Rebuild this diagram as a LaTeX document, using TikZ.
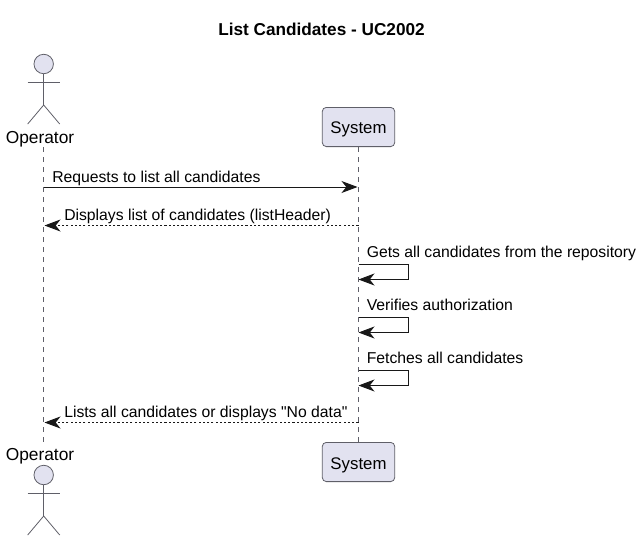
\documentclass[tikz,border=0pt]{standalone}
\usepackage{fontspec}
\setmainfont[Ligatures=TeXOff]{Liberation Sans}
\usetikzlibrary{arrows.meta,calc}
\definecolor{partfill}{HTML}{E2E2F0}
\definecolor{partline}{HTML}{5F5F68}
\definecolor{lifeline}{HTML}{5F5F68}
\definecolor{msgline}{HTML}{181818}
\tikzset{
  px/.style={x=0.75pt,y=-0.75pt},
  part/.style={draw=partline,fill=partfill,line width=0.6pt,rounded corners=3pt,minimum width=54.3pt,minimum height=29.4pt,inner sep=0pt,font=\fontsize{12.6}{14}\selectfont,text=black},
  actorname/.style={inner sep=0pt,font=\fontsize{13}{14}\selectfont,text=black,anchor=base},
  msglabel/.style={inner sep=0pt,anchor=base west,font=\fontsize{11.8}{13}\selectfont,text=black},
  titletext/.style={inner sep=0pt,anchor=base,font=\bfseries\fontsize{12.9}{14}\selectfont,text=black},
  life/.style={draw=lifeline,line width=0.6pt,dash pattern=on 3.75pt off 3.75pt},
  msg/.style={draw=msgline,line width=0.75pt,-{Stealth[length=12pt,width=9pt,inset=3.6pt]}},
  reply/.style={msg,dash pattern=on 1.6pt off 1.6pt},
  actorhead/.style={circle,draw=partline,fill=partfill,line width=0.6pt,minimum size=14.6pt,inner sep=0pt},
  limb/.style={draw=partline,line width=0.6pt},
}
\newcommand{\stick}[2]{%
  \node[actorhead] (#1head) at (#2) {};
  \coordinate (#1hip) at ($(#2)+(0,41)$);
  \coordinate (#1arm) at ($(#2)+(0,18)$);
  \coordinate (#1al) at ($(#2)+(-16,18)$);
  \coordinate (#1ar) at ($(#2)+(16,18)$);
  \coordinate (#1ll) at ($(#2)+(-16,60)$);
  \coordinate (#1lr) at ($(#2)+(16,60)$);
  \draw[limb] (#1head.south) -- (#1hip);
  \draw[limb] (#1al) -- (#1ar);
  \draw[limb] (#1ll) -- (#1hip) -- (#1lr);
}
\begin{document}
\begin{tikzpicture}[px]
\useasboundingbox (0,0) rectangle (642,542);
\node[titletext] (title) at (321.5,36) {List Candidates - UC2002};
% lifelines
\coordinate (opTop) at (43.5,147);
\coordinate (opBot) at (43.5,443);
\node[part] (sysTop) at (358.5,127) {\raisebox{-4.8pt}[0pt][0pt]{System}};
\node[part] (sysBot) at (358.5,462) {\raisebox{-5.4pt}[0pt][0pt]{System}};
\draw[life] (opTop) -- (opBot);
\draw[life] (sysTop) -- (sysBot);
% actors
\stick{a}{43.7,64}
\stick{b}{43.7,475}
\node[actorname] (opT) at (40,143.5) {Operator};
\node[actorname] (opB) at (40,460.5) {Operator};
% messages
\coordinate (m1a) at (43.5,187); \coordinate (m1b) at (357.5,187);
\draw[msg] (m1a) -- (m1b);
\node[msglabel] (l1) at (52,182.2) {Requests to list all candidates};
\coordinate (m2a) at (358.5,225.5); \coordinate (m2b) at (44.5,225.5);
\draw[reply] (m2a) -- (m2b);
\node[msglabel] (l2) at (64,220.7) {Displays list of candidates (listHeader)};
\foreach \y/\n/\t in {264/s1/Gets all candidates from the repository,317/s2/Verifies authorization,370/s3/Fetches all candidates}{
  \coordinate (\n a) at (358.5,\y);
  \coordinate (\n b) at (408.5,\y);
  \coordinate (\n c) at (408.5,\y+15.5);
  \coordinate (\n d) at (358.5,\y+15.5);
  \draw[msg] (\n a) -- (\n b) -- (\n c) -- (\n d);
  \node[msglabel] (\n t) at (366.5,\y-6.8) {\t};
}
\coordinate (m6a) at (358.5,422.5); \coordinate (m6b) at (44.5,422.5);
\draw[reply] (m6a) -- (m6b);
\node[msglabel] (l6) at (64,417.7) {Lists all candidates or displays "No data"};
\end{tikzpicture}
\end{document}
